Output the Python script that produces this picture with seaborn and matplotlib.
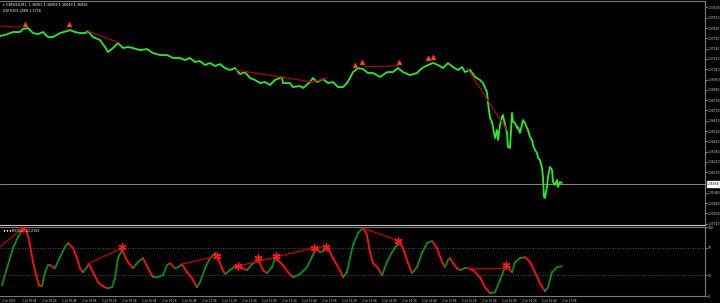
import numpy as np
import pandas as pd
import matplotlib
matplotlib.use("Agg")
import matplotlib.pyplot as plt
import matplotlib.transforms as mtrans
from matplotlib.collections import LineCollection
import seaborn as sns

sns.set_theme(style="dark")
plt.rcParams['font.family'] = ['DejaVu Sans']

# ---------------- data ----------------
price_bar = [0, 5, 13, 20, 23, 28, 33, 38, 43, 48, 53, 60, 67, 70, 75, 80, 85, 88, 93, 100,
             105, 108, 113, 118, 123, 128, 133, 140, 147, 153, 160, 167, 173, 180, 185, 190, 195, 200, 205, 210,
             215, 220, 225, 230, 235, 240, 245, 250, 255, 260, 265, 270, 275, 282, 283, 290, 293, 300, 303, 310,
             313, 317, 323, 328, 333, 338, 343, 347, 350, 353, 358, 363, 368, 373, 380, 387, 393, 398, 403, 410,
             417, 422, 428, 433, 438, 443, 448, 453, 458, 462, 465, 470, 475, 480, 483, 487, 488, 490, 492, 493,
             495, 497, 498, 500, 502, 503, 505, 507, 508, 510, 512, 513, 515, 517, 518, 520, 523, 525, 527, 528,
             530, 532, 533, 535, 537, 538, 540, 542, 543, 544, 545, 547, 548, 550, 552, 553, 555, 557, 558, 560, 562]
price_close = [1.37350, 1.37359, 1.37385, 1.37385, 1.37411, 1.37420, 1.37376, 1.37367, 1.37385, 1.37341,
               1.37341, 1.37376, 1.37393, 1.37402, 1.37385, 1.37376, 1.37376, 1.37393, 1.37341, 1.37315,
               1.37254, 1.37210, 1.37245, 1.37289, 1.37245, 1.37254, 1.37245, 1.37227, 1.37236, 1.37201,
               1.37184, 1.37184, 1.37158, 1.37158, 1.37140, 1.37158, 1.37123, 1.37131, 1.37097, 1.37114,
               1.37088, 1.37105, 1.37070, 1.37053, 1.37070, 1.37018, 1.37035, 1.36983, 1.36966, 1.36939,
               1.36948, 1.36922, 1.36966, 1.36992, 1.36939, 1.36939, 1.36904, 1.36913, 1.36896, 1.36948,
               1.36983, 1.36948, 1.36974, 1.36939, 1.36948, 1.36904, 1.36904, 1.36939, 1.36983, 1.37035,
               1.37070, 1.37062, 1.37027, 1.37027, 1.36992, 1.37035, 1.37035, 1.37070, 1.37035, 1.37009,
               1.37027, 1.37070, 1.37097, 1.37114, 1.37097, 1.37070, 1.37114, 1.37079, 1.37053, 1.37079,
               1.37035, 1.37053, 1.36992, 1.36966, 1.36939, 1.36861, 1.36765, 1.36634, 1.36599, 1.36555,
               1.36459, 1.36529, 1.36442, 1.36573, 1.36643, 1.36660, 1.36573, 1.36503, 1.36381, 1.36372,
               1.36678, 1.36599, 1.36590, 1.36547, 1.36555, 1.36503, 1.36616, 1.36590, 1.36547, 1.36529,
               1.36468, 1.36442, 1.36398, 1.36354, 1.36328, 1.36285, 1.36267, 1.36197, 1.36119, 1.35944,
               1.35935, 1.36031, 1.36119, 1.36206, 1.36180, 1.36075, 1.36049, 1.36093, 1.36031, 1.36075, 1.36066]

current_price = 1.36058

# trendlines on price pane (bar0, price0, bar1, price1)
price_lines = [(0, 1.37437, 20, 1.37428),
               (88, 1.37393, 120, 1.37289),
               (236, 1.37053, 313, 1.36948),
               (313, 1.36948, 327, 1.36983),
               (365, 1.37082, 398, 1.37090),
               (467, 1.37070, 507, 1.36529)]

arrow_bar = [25, 69, 355, 362, 399, 428, 433]
arrow_price = [1.37454, 1.37454, 1.37097, 1.37123, 1.37123, 1.37158, 1.37166]

price_ticks = [1.37600, 1.37510, 1.37420, 1.37330, 1.37240, 1.37150, 1.37060, 1.36970, 1.36880,
               1.36790, 1.36700, 1.36610, 1.36520, 1.36430, 1.36340, 1.36250, 1.36160,
               1.35980, 1.35890, 1.35800, 1.35710]

osc_bar = [2, 7, 13, 18, 22, 23, 27, 30, 33, 37, 39, 42, 45, 48, 50, 55, 60, 65, 68, 73,
           77, 80, 83, 87, 89, 93, 98, 103, 107, 112, 115, 118, 122, 123, 128, 133, 138, 143, 148, 153,
           157, 163, 167, 170, 175, 178, 182, 187, 192, 197, 200, 205, 210, 215, 218, 222, 225, 230, 235, 238,
           240, 247, 252, 257, 260, 263, 267, 272, 275, 278, 283, 288, 293, 300, 307, 312, 315, 317, 320, 323,
           327, 330, 333, 337, 340, 343, 347, 350, 353, 358, 363, 367, 370, 373, 378, 382, 387, 392, 397, 399,
           403, 408, 412, 417, 422, 427, 432, 437, 442, 445, 448, 450, 453, 457, 460, 465, 468, 473, 478, 480,
           485, 490, 495, 500, 505, 508, 512, 515, 520, 525, 530, 535, 540, 545, 548, 552, 557, 562]
osc_value = [15.6, 40.3, 69.4, 85.4, 95.6, 98.5, 92.7, 73.8, 49.1, 25.8, 15.6, 14.1, 34.5, 44.7, 44.7, 40.3,
             56.3, 70.9, 76.7, 69.4, 54.9, 40.3, 34.5, 41.8, 46.1, 34.5, 19.9, 14.1, 11.2, 12.7, 25.8, 54.9,
             66.5, 63.6, 49.1, 40.3, 49.1, 54.9, 40.3, 27.2, 27.2, 30.1, 44.7, 47.6, 40.3, 41.8, 46.1, 34.5,
             25.8, 12.7, 19.9, 40.3, 54.9, 62.2, 54.9, 40.3, 31.6, 37.4, 43.2, 41.8, 41.8, 37.4, 46.1, 50.5,
             47.6, 37.4, 33.0, 41.8, 54.9, 52.0, 44.7, 34.5, 27.2, 31.6, 41.8, 56.3, 66.5, 69.4, 63.6, 65.1,
             69.4, 63.6, 54.9, 44.7, 37.4, 27.2, 34.5, 54.9, 73.8, 91.3, 98.5, 88.4, 63.6, 47.6, 40.3, 30.1,
             49.1, 63.6, 73.8, 79.6, 69.4, 47.6, 33.0, 41.8, 62.2, 76.7, 79.6, 69.4, 49.1, 41.8, 52.0, 54.9,
             47.6, 40.3, 37.4, 40.3, 40.3, 37.4, 30.1, 27.2, 12.7, 3.9, 5.4, 22.9, 41.8, 41.8, 34.5, 49.1,
             54.9, 56.3, 49.1, 34.5, 18.5, 6.8, 12.7, 34.5, 41.8, 43.2]

osc_lines = [(0, 71.3, 23, 98.5),
             (87, 46.1, 122, 69.4),
             (182, 46.1, 217, 57.8),
             (238, 43.2, 314, 69.9),
             (314, 69.9, 326, 71.3),
             (363, 98.5, 398, 80.1),
             (467, 40.3, 506, 40.3)]

star_bar = [23, 122, 217, 238, 258, 276, 314, 326, 398, 506]
star_value = [98.5, 70.9, 57.8, 43.2, 54.4, 58.2, 69.9, 71.3, 80.1, 44.7]

osc_levels = [30, 70]
osc_ticks = [0, 30, 70, 100]

time_tick_bar = [2, 22, 42, 62, 82, 102, 122, 142, 162, 182, 202, 222, 242, 262, 282,
                 302, 322, 342, 362, 382, 402, 422, 442, 462, 482, 502, 522, 542, 562]
time_tick_label = ["2 Jul 2025", "2 Jul 08:08", "2 Jul 08:28", "2 Jul 08:48", "2 Jul 09:08",
                   "2 Jul 09:28", "2 Jul 09:48", "2 Jul 10:08", "2 Jul 10:28", "2 Jul 10:48",
                   "2 Jul 11:08", "2 Jul 11:28", "2 Jul 11:48", "2 Jul 12:08", "2 Jul 12:28",
                   "2 Jul 12:48", "2 Jul 13:08", "2 Jul 13:28", "2 Jul 13:48", "2 Jul 14:08",
                   "2 Jul 14:28", "2 Jul 14:48", "2 Jul 15:08", "2 Jul 15:28", "2 Jul 15:48",
                   "2 Jul 16:08", "2 Jul 16:28", "2 Jul 16:48", "2 Jul 17:08"]

title_text = "\u25be GBPUSD,M1  1.36065 1.36069 1.36049 1.36058"
sub_text = "DIV 0105 2580 1.3716"
osc_title = "\u2666\u2666\u2666RSI(14) 43.2156"

# ---------------- figure ----------------
W, H = 720, 303
fig = plt.figure(figsize=(W / 100, H / 100), dpi=100)
fig.patch.set_facecolor('black')

right = 705 / W
ax = fig.add_axes([0, 1 - 225 / H, right, (225 - 1) / H])
ax2 = fig.add_axes([0, 1 - 296 / H, right, (296 - 227) / H])

grid_col = '#7a7a7a'
txt_col = '#d0d0d0'
for a in (ax, ax2):
    a.set_facecolor('black')
    a.grid(False)
    for s in a.spines.values():
        s.set_color(grid_col)
        s.set_linewidth(0.8)
    a.spines['left'].set_visible(False)
    a.set_xlim(0, 705)

# price pane
df = pd.DataFrame({"bar": price_bar, "close": price_close})
for (b0, p0, b1, p1) in price_lines:
    ax.plot([b0, b1], [p0, p1], color='#b00000', lw=0.9, zorder=3)
sns.lineplot(data=df, x="bar", y="close", ax=ax, color='#2ee82e', lw=1.3, zorder=2)
ax.axhline(current_price, color='#8a8a8a', lw=0.7, zorder=1)
sns.scatterplot(x=arrow_bar, y=arrow_price, ax=ax, marker='^', s=12, color='#ff5a10',
                edgecolor='#ff3000', linewidth=0.4, zorder=4)
ax.set_ylim(1.35699, 1.37656)
ax.set_xlabel('')
ax.set_ylabel('')
ax.yaxis.tick_right()
ax.set_yticks(price_ticks)
ax.set_yticklabels([f"{p:.5f}" for p in price_ticks])
ax.tick_params(axis='y', labelsize=2.2, colors=txt_col, length=1.2, width=0.5, pad=0.8)
ax.set_xticks([])
ax.spines['bottom'].set_color('#c8c8c8')

trans = mtrans.blended_transform_factory(ax.transAxes, ax.transData)
ax.text(1.003, current_price, f"{current_price:.5f}", transform=trans, fontsize=2.2,
        color='black', va='center', ha='left',
        bbox=dict(boxstyle='square,pad=0.2', fc='white', ec='white'))
ax.text(0.004, 0.992, title_text, transform=ax.transAxes, fontsize=2.4, color='white',
        va='top', ha='left')
ax.text(0.004, 0.965, sub_text, transform=ax.transAxes, fontsize=2.4, color='white',
        va='top', ha='left')

# oscillator pane
segs, cols = [], []
for i in range(len(osc_bar) - 1):
    segs.append([(osc_bar[i], osc_value[i]), (osc_bar[i + 1], osc_value[i + 1])])
    cols.append('#138a13' if osc_value[i + 1] >= osc_value[i] else '#ff1010')
ax2.add_collection(LineCollection(segs, colors=cols, linewidths=1.3, zorder=2,
                                  capstyle='round'))
for (b0, v0, b1, v1) in osc_lines:
    ax2.plot([b0, b1], [v0, v1], color='#c40000', lw=0.9, zorder=3)
sns.scatterplot(x=star_bar, y=star_value, ax=ax2, marker=(6, 2, 0), s=24,
                color='#ff1a1a', edgecolor='#ff1a1a', linewidth=1.0, zorder=4)
for lv in osc_levels:
    ax2.axhline(lv, color='#6a6a6a', lw=0.6, ls=(0, (1, 2)), zorder=1)
ax2.set_ylim(0, 100)
ax2.yaxis.tick_right()
ax2.set_yticks(osc_ticks)
ax2.set_yticklabels([str(t) for t in osc_ticks])
ax2.tick_params(axis='y', labelsize=2.2, colors=txt_col, length=1.2, width=0.5, pad=0.8)
ax2.set_xticks(time_tick_bar)
ax2.set_xticklabels(time_tick_label, ha='left')
ax2.tick_params(axis='x', labelsize=2.0, colors=txt_col, length=1.2, width=0.5, pad=0.8)
ax2.set_xlabel('')
ax2.set_ylabel('')
ax2.text(0.004, 0.97, osc_title, transform=ax2.transAxes, fontsize=2.4, color='white',
         va='top', ha='left')

fig.savefig("out.png", dpi=100, facecolor='black')
